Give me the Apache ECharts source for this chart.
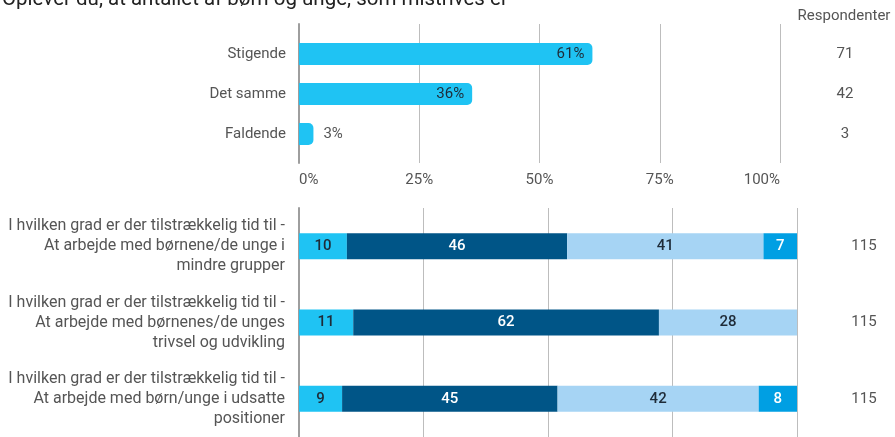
<!DOCTYPE html>
<html>
<head>
<meta charset="utf-8">
<script src="https://cdn.jsdelivr.net/npm/echarts@6/dist/echarts.min.js"></script>
<style>
  html, body { margin: 0; padding: 0; background: #fff; }
  #chart { width: 895px; height: 437px; }
</style>
</head>
<body>
<div id="chart"></div>
<script>
// top chart - udvikling
const trendCats = ['Stigende', 'Det samme', 'Faldende']
const trendPct = [61, 36, 3]
const trendResp = [71, 42, 3]

// bottom chart - tid til
const timeCats = [
  'I hvilken grad er der tilstrækkelig tid til -\nAt arbejde med børnene/de unge i\nmindre grupper',
  'I hvilken grad er der tilstrækkelig tid til -\nAt arbejde med børnenes/de unges\ntrivsel og udvikling',
  'I hvilken grad er der tilstrækkelig tid til -\nAt arbejde med børn/unge i udsatte\npositioner'
]
const seg1 = [10, 11, 9]
const seg2 = [46, 62, 45]
const seg3 = [41, 28, 42]
const seg4 = [7, 0, 8]
const timeResp = [115, 115, 115]

const pctTicks = [0, 25, 50, 75, 100]

const FONT = 'Roboto, "Noto Sans", sans-serif'
const GRID_COLOR = '#bdbdbd'
const TEXT = '#555'

const rowSums = seg1.map((v, i) => v + seg2[i] + seg3[i] + seg4[i])

function stackSeries(name, vals, color, labelColor) {
  return {
    name: name,
    type: 'bar',
    stack: 'tid',
    xAxisIndex: 2,
    yAxisIndex: 3,
    barWidth: 26,
    itemStyle: { color: color },
    label: {
      show: true,
      position: 'inside',
      color: labelColor,
      fontSize: 15,
      fontWeight: 500,
      fontFamily: FONT,
      formatter: p => (p.data.raw ? p.data.raw : '')
    },
    data: vals.map((v, i) => ({ value: v / rowSums[i] * 100, raw: v }))
  }
}

const chart = echarts.init(document.getElementById('chart'))
chart.setOption({
  animation: false,
  backgroundColor: '#fff',
  title: [{
    text: 'Oplever du, at antallet af børn og unge, som mistrives er',
    left: 2,
    top: -11,
    padding: 0,
    textStyle: { fontFamily: FONT, fontSize: 20.5, fontWeight: 'normal', color: '#222' }
  }, {
    text: 'Respondenter',
    left: 844,
    top: 9,
    padding: 0,
    textAlign: 'center',
    textStyle: { fontFamily: FONT, fontSize: 15, fontWeight: 'normal', color: TEXT }
  }],
  grid: [
    // gridlines + tick labels for top chart
    { left: 299, right: 115, top: 24, height: 139 },
    // bars top chart
    { left: 299, right: 115, top: 34, height: 120 },
    // bottom chart
    { left: 299, right: 98, top: 208, height: 240 }
  ],
  xAxis: [{
    gridIndex: 0,
    type: 'value',
    min: pctTicks[0],
    max: pctTicks[pctTicks.length - 1],
    interval: 25,
    axisLine: { show: false },
    axisTick: { show: false },
    splitLine: { lineStyle: { color: GRID_COLOR, width: 1 } },
    axisLabel: {
      margin: 10,
      color: TEXT,
      fontSize: 15,
      fontFamily: FONT,
      formatter: '{value}%',
      alignMinLabel: 'left',
      alignMaxLabel: 'right'
    }
  }, {
    gridIndex: 1,
    type: 'value',
    min: 0,
    max: 100,
    show: false
  }, {
    gridIndex: 2,
    type: 'value',
    min: 0,
    max: 100,
    interval: 25,
    axisLine: { show: false },
    axisTick: { show: false },
    axisLabel: { show: false },
    splitLine: { lineStyle: { color: GRID_COLOR, width: 1 } }
  }],
  yAxis: [{
    gridIndex: 0,
    type: 'value',
    min: 0,
    max: 1,
    axisLine: { show: true, lineStyle: { color: '#9e9e9e', width: 2 } },
    axisTick: { show: false },
    axisLabel: { show: false },
    splitLine: { show: false }
  }, {
    gridIndex: 1,
    type: 'category',
    inverse: true,
    data: trendCats,
    axisLine: { show: false },
    axisTick: { show: false },
    axisLabel: { margin: 13, color: TEXT, fontSize: 15, fontFamily: FONT }
  }, {
    gridIndex: 1,
    type: 'category',
    position: 'right',
    inverse: true,
    data: trendResp,
    axisLine: { show: false },
    axisTick: { show: false },
    axisLabel: { margin: 65, align: 'center', color: TEXT, fontSize: 15, fontFamily: FONT }
  }, {
    gridIndex: 2,
    type: 'category',
    inverse: true,
    data: timeCats,
    axisLine: { show: true, lineStyle: { color: '#9e9e9e', width: 2 } },
    axisTick: { show: false },
    axisLabel: { margin: 14, color: TEXT, fontSize: 16, lineHeight: 20, fontFamily: FONT, align: 'right' }
  }, {
    gridIndex: 2,
    type: 'category',
    position: 'right',
    inverse: true,
    data: timeResp,
    axisLine: { show: false },
    axisTick: { show: false },
    axisLabel: { margin: 67, align: 'center', color: TEXT, fontSize: 15, fontFamily: FONT }
  }],
  series: [{
    type: 'bar',
    xAxisIndex: 1,
    yAxisIndex: 1,
    barWidth: 22,
    itemStyle: { color: '#1fc3f3', borderRadius: [0, 5, 5, 0] },
    label: {
      show: true,
      position: 'insideRight',
      distance: 8,
      color: '#1e2b38',
      fontSize: 15,
      fontFamily: FONT,
      formatter: '{c}%'
    },
    data: trendPct.map(v => (v < 10
      ? { value: v, label: { position: 'right', distance: 10, color: TEXT } }
      : v))
  },
  stackSeries('s1', seg1, '#1fc3f3', '#1e2b38'),
  stackSeries('s2', seg2, '#005587', '#fff'),
  stackSeries('s3', seg3, '#a6d4f4', '#1e2b38'),
  stackSeries('s4', seg4, '#009fe3', '#fff')
  ]
})
</script>
</body>
</html>
